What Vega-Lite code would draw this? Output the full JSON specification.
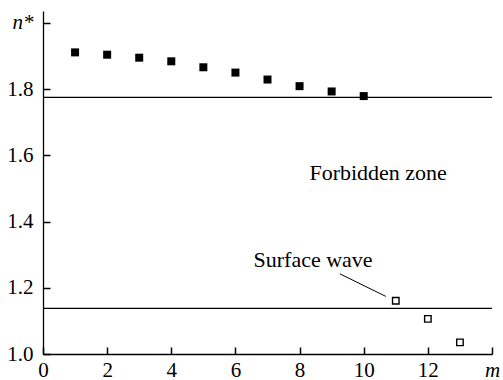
{
  "$schema": "https://vega.github.io/schema/vega-lite/v6.json",
  "autosize": "none",
  "width": 449,
  "height": 343,
  "padding": {"left": 43, "top": 11, "right": 11, "bottom": 26},
  "background": "white",
  "config": {
    "view": {"stroke": null},
    "font": "Liberation Serif, Times New Roman, serif",
    "axis": {
      "grid": false,
      "domainColor": "black",
      "domainWidth": 1.3,
      "ticks": true,
      "tickColor": "black",
      "tickWidth": 1.5,
      "tickSize": -7,
      "labelColor": "black",
      "title": null
    }
  },
  "datasets": {
    "modes": [
      {"m": 1, "n": 1.911, "kind": "bulk"},
      {"m": 2, "n": 1.904, "kind": "bulk"},
      {"m": 3, "n": 1.895, "kind": "bulk"},
      {"m": 4, "n": 1.884, "kind": "bulk"},
      {"m": 5, "n": 1.866, "kind": "bulk"},
      {"m": 6, "n": 1.850, "kind": "bulk"},
      {"m": 7, "n": 1.829, "kind": "bulk"},
      {"m": 8, "n": 1.809, "kind": "bulk"},
      {"m": 9, "n": 1.793, "kind": "bulk"},
      {"m": 10, "n": 1.779, "kind": "bulk"},
      {"m": 11, "n": 1.161, "kind": "surface"},
      {"m": 12, "n": 1.106, "kind": "surface"},
      {"m": 13, "n": 1.035, "kind": "surface"}
    ],
    "bounds": [
      {"m0": 0, "m1": 14, "n": 1.775},
      {"m0": 0, "m1": 14, "n": 1.138}
    ],
    "notes": [
      {"m": 8.42, "n": 1.285, "label": "Surface wave"},
      {"m": 10.45, "n": 1.548, "label": "Forbidden zone"}
    ],
    "leader": [
      {"m0": 9.26, "n0": 1.242, "m1": 10.69, "n1": 1.174}
    ]
  },
  "layer": [
    {
      "data": {"name": "bounds"},
      "mark": {"type": "rule", "color": "black", "strokeWidth": 1.3},
      "encoding": {
        "x": {
          "field": "m0", "type": "quantitative",
          "scale": {"domain": [0, 14], "nice": false},
          "axis": {
            "values": [0, 2, 4, 6, 8, 10, 12, 14],
            "labelExpr": "datum.value == 14 ? 'm' : format(datum.value, 'd')",
            "labelFont": "Liberation Serif, Times New Roman, serif",
            "labelFontSize": 21,
            "labelFontStyle": {"condition": {"test": "datum.value == 14", "value": "italic"}, "value": "normal"},
            "labelPadding": 12,
            "labelFlush": false
          }
        },
        "x2": {"field": "m1"},
        "y": {
          "field": "n", "type": "quantitative",
          "scale": {"domain": [1.0, 2.036], "nice": false, "zero": false},
          "axis": {
            "values": [1.0, 1.2, 1.4, 1.6, 1.8, 2.0],
            "labelExpr": "datum.value == 2 ? 'n*' : format(datum.value, '.1f')",
            "labelFont": "Liberation Serif, Times New Roman, serif",
            "labelFontSize": 21,
            "labelFontStyle": {"condition": {"test": "datum.value == 2", "value": "italic"}, "value": "normal"},
            "labelPadding": 17,
            "labelFlush": false
          }
        }
      }
    },
    {
      "data": {"name": "leader"},
      "mark": {"type": "rule", "color": "black", "strokeWidth": 1},
      "encoding": {
        "x": {"field": "m0", "type": "quantitative"},
        "x2": {"field": "m1"},
        "y": {"field": "n0", "type": "quantitative"},
        "y2": {"field": "n1"}
      }
    },
    {
      "data": {"name": "modes"},
      "transform": [{"filter": "datum.kind == 'bulk'"}],
      "mark": {"type": "point", "shape": "square", "filled": true, "color": "black", "size": 64, "opacity": 1},
      "encoding": {
        "x": {"field": "m", "type": "quantitative"},
        "y": {"field": "n", "type": "quantitative"}
      }
    },
    {
      "data": {"name": "modes"},
      "transform": [{"filter": "datum.kind == 'surface'"}],
      "mark": {"type": "point", "shape": "square", "filled": false, "fill": "white", "stroke": "black", "strokeWidth": 1.4, "size": 42, "opacity": 1},
      "encoding": {
        "x": {"field": "m", "type": "quantitative"},
        "y": {"field": "n", "type": "quantitative"}
      }
    },
    {
      "data": {"name": "notes"},
      "mark": {"type": "text", "font": "Liberation Serif, Times New Roman, serif", "fontSize": 22, "color": "black", "align": "center", "baseline": "middle"},
      "encoding": {
        "x": {"field": "m", "type": "quantitative"},
        "y": {"field": "n", "type": "quantitative"},
        "text": {"field": "label"}
      }
    }
  ]
}
